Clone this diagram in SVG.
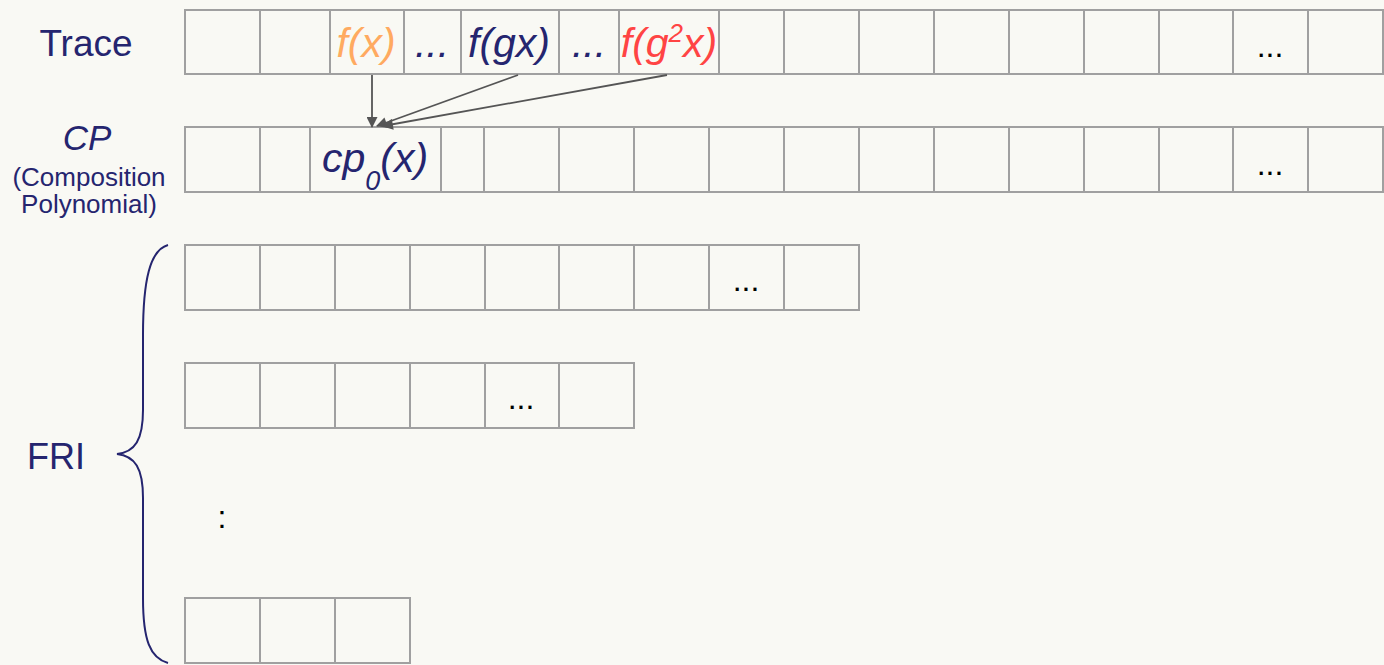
<svg xmlns="http://www.w3.org/2000/svg" width="1384" height="665" viewBox="0 0 1384 665">
<defs>
<style>
.cell{fill:none;stroke:#a0a0a0;stroke-width:2}
.lbl{font-family:"Liberation Sans",Arial,sans-serif;fill:#25256f}
.mth{font-family:"Liberation Sans",Arial,sans-serif;font-style:italic;font-size:41px;text-anchor:middle}
.dots{font-family:"Liberation Sans",Arial,sans-serif;font-size:32px;fill:#000;text-anchor:middle}
.conn{stroke:#555;stroke-width:1.8;fill:none;marker-end:url(#ah)}
</style>
<marker id="ah" viewBox="0 0 10 10" refX="9" refY="5" markerWidth="12" markerHeight="11" orient="auto" markerUnits="userSpaceOnUse">
<path d="M0,0 L10,5 L0,10 z" fill="#555"/>
</marker>
</defs>
<rect width="1384" height="665" fill="#f9f9f4"/>
<g id="labels">
<text class="lbl" x="86" y="56" font-size="37" text-anchor="middle">Trace</text>
<text class="lbl" x="87" y="150" font-size="35" font-style="italic" text-anchor="middle">CP</text>
<text class="lbl" x="89" y="186" font-size="26" text-anchor="middle">(Composition</text>
<text class="lbl" x="89" y="213" font-size="26" text-anchor="middle">Polynomial)</text>
<text class="lbl" x="56" y="469" font-size="36" text-anchor="middle">FRI</text>
</g>
<g id="trace">
<path class="cell" d="M185,10 H1383 V74 H185 Z M260,10 V74 M330,10 V74 M404,10 V74 M461,10 V74 M559,10 V74 M619,10 V74 M719,10 V74 M784,10 V74 M859,10 V74 M934,10 V74 M1009,10 V74 M1084,10 V74 M1159,10 V74 M1233,10 V74 M1308,10 V74"/>
<text class="mth" x="366" y="57" fill="#ffaa60">f(x)</text>
<text class="mth" x="432" y="57" fill="#25256f">...</text>
<text class="mth" x="509" y="57" fill="#25256f">f(gx)</text>
<text class="mth" x="589" y="57" fill="#25256f">...</text>
<text class="mth" x="669" y="57" fill="#ff4444">f(g<tspan font-size="26" dy="-15">2</tspan><tspan dy="15">x)</tspan></text>
<text class="dots" x="1270" y="57">...</text>
</g>
<g id="cp">
<path class="cell" d="M185,127 H1383 V192 H185 Z M260,127 V192 M310,127 V192 M441,127 V192 M484,127 V192 M559,127 V192 M634,127 V192 M709,127 V192 M784,127 V192 M859,127 V192 M934,127 V192 M1009,127 V192 M1084,127 V192 M1159,127 V192 M1233,127 V192 M1308,127 V192"/>
<text class="mth" x="375" y="172" fill="#25256f">cp<tspan font-size="27" dy="18">0</tspan><tspan dy="-18">(x)</tspan></text>
<text class="dots" x="1270" y="175">...</text>
</g>
<g id="fri1">
<path class="cell" d="M185,245 H859 V310 H185 Z M260,245 V310 M335,245 V310 M410,245 V310 M485,245 V310 M559,245 V310 M634,245 V310 M709,245 V310 M784,245 V310"/>
<text class="dots" x="746" y="291" font-size="24">...</text>
</g>
<g id="fri2">
<path class="cell" d="M185,363 H634 V428 H185 Z M260,363 V428 M335,363 V428 M410,363 V428 M485,363 V428 M559,363 V428"/>
<text class="dots" x="521" y="409" font-size="24">...</text>
</g>
<g id="vdots">
<text class="dots" x="222" y="528" font-size="36">:</text>
</g>
<g id="fri3">
<path class="cell" d="M185,598 H410 V663 H185 Z M260,598 V663 M335,598 V663"/>
</g>
<g id="brace">
<path d="M168,245 C150,250 143,280 143,335 L143,410 C143,440 135,452 117,454 C135,456 143,468 143,498 L143,598 C143,640 150,658 168,663" fill="none" stroke="#25256f" stroke-width="2"/>
</g>
<g id="connectors">
<line class="conn" x1="372" y1="75" x2="372" y2="127"/>
<line class="conn" x1="518" y1="75" x2="377" y2="126"/>
<line class="conn" x1="667" y1="75" x2="383" y2="126"/>
</g>
</svg>
